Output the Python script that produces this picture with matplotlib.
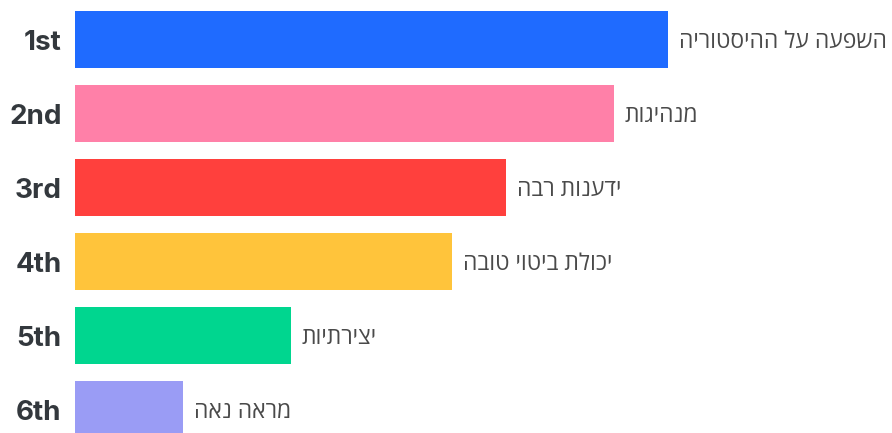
import matplotlib
matplotlib.use("Agg")
import matplotlib.pyplot as plt

ranks = ["1st", "2nd", "3rd", "4th", "5th", "6th"]
labels = ["השפעה על ההיסטוריה", "מנהיגות", "ידענות רבה", "יכולת ביטוי טובה", "יצירתיות", "מראה נאה"]
values = [11, 10, 8, 7, 4, 2]
colors = ["#1f6bff", "#ff80a8", "#ff403d", "#ffc43b", "#00d68f", "#9a9cf5"]


def visual(s):
    # matplotlib has no bidi support, so reverse Hebrew for display
    return s[::-1]


fig = plt.figure(figsize=(8.92, 4.33), dpi=100)
ax = fig.add_axes([75 / 892, 0, 1 - 75 / 892, 1])

pos = list(range(len(values)))
ax.barh(pos, values, height=0.77, color=colors)
ax.set_xlim(0, 817 / 53.9)
ax.set_ylim((433 - 39.5) / 74, -39.5 / 74)
ax.axis("off")

for p, v, lab, rk in zip(pos, values, labels, ranks):
    ax.text(v + 0.2, p + 0.03, visual(lab), va="center", ha="left", fontsize=16.5,
            color="#4a4a4a", family=["Open Sans", "DejaVu Sans"])
    ax.text(-0.25, p + 0.05, rk, va="center", ha="right", fontsize=20, fontweight="bold",
            color="#33383d", family=["Inter", "DejaVu Sans"])

fig.savefig("out.png", dpi=100)
